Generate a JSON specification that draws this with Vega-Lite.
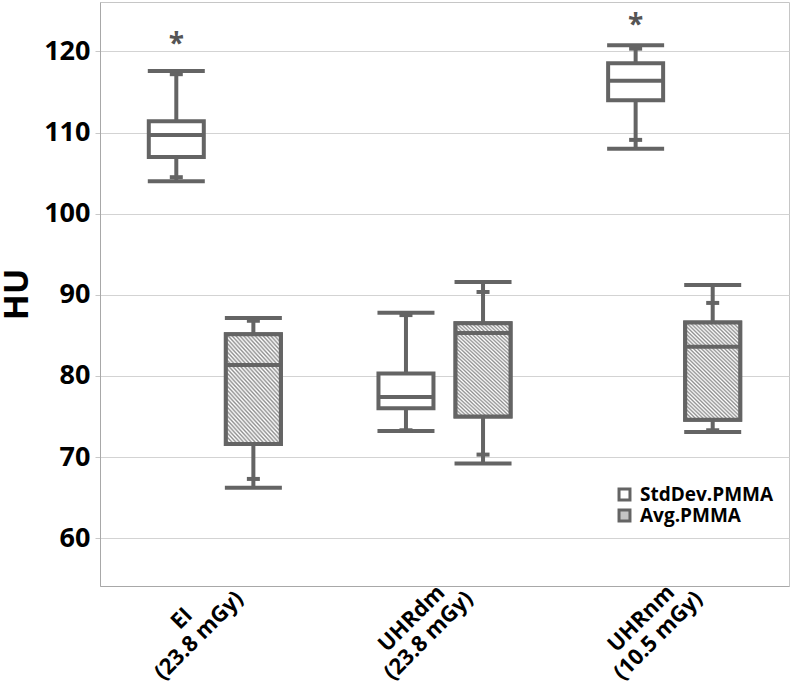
{
  "$schema": "https://vega.github.io/schema/vega-lite/v6.json",
  "width": 689,
  "height": 584,
  "autosize": "none",
  "padding": {"left": 100, "top": 2, "right": 1, "bottom": 108},
  "background": "white",
  "config": {
    "font": "Open Sans",
    "view": {"stroke": "#c6c6c6", "strokeWidth": 1}
  },
  "data": {
    "values": [
      {"group": "EI (23.8 mGy)", "series": "StdDev.PMMA", "min": 104.0, "lo": 104.5, "q1": 107.0, "median": 109.7, "q3": 111.4, "hi": 117.2, "max": 117.6, "star": 121.8},
      {"group": "EI (23.8 mGy)", "series": "Avg.PMMA", "min": 66.2, "lo": 67.3, "q1": 71.6, "median": 81.35, "q3": 85.15, "hi": 86.8, "max": 87.15, "star": null},
      {"group": "UHRdm (23.8 mGy)", "series": "StdDev.PMMA", "min": 73.2, "lo": 73.3, "q1": 76.0, "median": 77.4, "q3": 80.3, "hi": 87.5, "max": 87.8, "star": null},
      {"group": "UHRdm (23.8 mGy)", "series": "Avg.PMMA", "min": 69.2, "lo": 70.3, "q1": 75.0, "median": 85.3, "q3": 86.5, "hi": 90.35, "max": 91.57, "star": null},
      {"group": "UHRnm (10.5 mGy)", "series": "StdDev.PMMA", "min": 108.0, "lo": 109.1, "q1": 114.0, "median": 116.4, "q3": 118.55, "hi": 120.35, "max": 120.76, "star": 124.1},
      {"group": "UHRnm (10.5 mGy)", "series": "Avg.PMMA", "min": 73.1, "lo": 73.3, "q1": 74.6, "median": 83.6, "q3": 86.6, "hi": 89.0, "max": 91.2, "star": null}
    ]
  },
  "encoding": {
    "x": {
      "field": "group",
      "type": "nominal",
      "sort": ["EI (23.8 mGy)", "UHRdm (23.8 mGy)", "UHRnm (10.5 mGy)"],
      "scale": {"paddingInner": 0, "paddingOuter": 0},
      "axis": {
        "title": null,
        "labelAngle": -45,
        "labelAlign": "center",
        "labelBaseline": "middle",
        "labelFontSize": 22,
        "labelFontWeight": "bold",
        "labelColor": "#000000",
        "labelPadding": 32,
        "labelOffset": -33,
        "labelLineHeight": 24,
        "labelExpr": "[slice(datum.label, 0, indexof(datum.label, ' (')), slice(datum.label, indexof(datum.label, ' (') + 1)]",
        "ticks": false,
        "domainColor": "#a8a8a8",
        "grid": false
      }
    },
    "xOffset": {
      "field": "series",
      "type": "nominal",
      "sort": ["StdDev.PMMA", "Avg.PMMA"],
      "scale": {"paddingInner": 0, "paddingOuter": 0.49}
    }
  },
  "layer": [
    {
      "mark": {"type": "rule", "color": "#646464", "strokeWidth": 4},
      "encoding": {
        "y": {
          "field": "min",
          "type": "quantitative",
          "scale": {"domain": [54.1, 126.1], "nice": false, "zero": false},
          "axis": {
            "title": "HU",
            "titleFontSize": 34,
            "titleFontWeight": "bold",
            "titleColor": "#000000",
            "titlePadding": 9,
            "labelFontSize": 27,
            "labelFontWeight": "bold",
            "labelColor": "#000000",
            "labelPadding": 5,
            "tickSize": 5,
            "tickColor": "#c8c8c8",
            "gridColor": "#d3d3d3",
            "domainColor": "#a8a8a8",
            "values": [60, 70, 80, 90, 100, 110, 120]
          }
        },
        "y2": {"field": "max"}
      }
    },
    {
      "mark": {"type": "bar", "stroke": "#646464", "strokeWidth": 4, "width": 55},
      "encoding": {
        "y": {"field": "q1", "type": "quantitative"},
        "y2": {"field": "q3"},
        "fill": {
          "field": "series",
          "type": "nominal",
          "scale": {"domain": ["StdDev.PMMA", "Avg.PMMA"], "range": ["#ffffff", "#c4c4c4"]},
          "legend": {
            "title": null,
            "orient": "none",
            "legendX": 515,
            "legendY": 483,
            "symbolType": "square",
            "symbolSize": 120,
            "symbolStrokeColor": "#646464",
            "symbolStrokeWidth": 3,
            "labelFontSize": 19,
            "labelFontWeight": "bold",
            "labelColor": "#000000",
            "labelOffset": 6,
            "rowPadding": -3
          }
        }
      }
    },
    {
      "transform": [{"filter": "datum.series === 'Avg.PMMA'"}],
      "mark": {
        "type": "bar",
        "stroke": "#646464",
        "strokeWidth": 4,
        "width": 55,
        "fill": {
          "gradient": "linear",
          "x1": 0, "y1": 1, "x2": 0.6545, "y2": -0.19,
          "stops": [
            {"offset": 0, "color": "#8f8f8f"}, {"offset": 0.0125, "color": "#ffffff"},
            {"offset": 0.025, "color": "#8f8f8f"}, {"offset": 0.0375, "color": "#ffffff"},
            {"offset": 0.05, "color": "#8f8f8f"}, {"offset": 0.0625, "color": "#ffffff"},
            {"offset": 0.075, "color": "#8f8f8f"}, {"offset": 0.0875, "color": "#ffffff"},
            {"offset": 0.1, "color": "#8f8f8f"}, {"offset": 0.1125, "color": "#ffffff"},
            {"offset": 0.125, "color": "#8f8f8f"}, {"offset": 0.1375, "color": "#ffffff"},
            {"offset": 0.15, "color": "#8f8f8f"}, {"offset": 0.1625, "color": "#ffffff"},
            {"offset": 0.175, "color": "#8f8f8f"}, {"offset": 0.1875, "color": "#ffffff"},
            {"offset": 0.2, "color": "#8f8f8f"}, {"offset": 0.2125, "color": "#ffffff"},
            {"offset": 0.225, "color": "#8f8f8f"}, {"offset": 0.2375, "color": "#ffffff"},
            {"offset": 0.25, "color": "#8f8f8f"}, {"offset": 0.2625, "color": "#ffffff"},
            {"offset": 0.275, "color": "#8f8f8f"}, {"offset": 0.2875, "color": "#ffffff"},
            {"offset": 0.3, "color": "#8f8f8f"}, {"offset": 0.3125, "color": "#ffffff"},
            {"offset": 0.325, "color": "#8f8f8f"}, {"offset": 0.3375, "color": "#ffffff"},
            {"offset": 0.35, "color": "#8f8f8f"}, {"offset": 0.3625, "color": "#ffffff"},
            {"offset": 0.375, "color": "#8f8f8f"}, {"offset": 0.3875, "color": "#ffffff"},
            {"offset": 0.4, "color": "#8f8f8f"}, {"offset": 0.4125, "color": "#ffffff"},
            {"offset": 0.425, "color": "#8f8f8f"}, {"offset": 0.4375, "color": "#ffffff"},
            {"offset": 0.45, "color": "#8f8f8f"}, {"offset": 0.4625, "color": "#ffffff"},
            {"offset": 0.475, "color": "#8f8f8f"}, {"offset": 0.4875, "color": "#ffffff"},
            {"offset": 0.5, "color": "#8f8f8f"}, {"offset": 0.5125, "color": "#ffffff"},
            {"offset": 0.525, "color": "#8f8f8f"}, {"offset": 0.5375, "color": "#ffffff"},
            {"offset": 0.55, "color": "#8f8f8f"}, {"offset": 0.5625, "color": "#ffffff"},
            {"offset": 0.575, "color": "#8f8f8f"}, {"offset": 0.5875, "color": "#ffffff"},
            {"offset": 0.6, "color": "#8f8f8f"}, {"offset": 0.6125, "color": "#ffffff"},
            {"offset": 0.625, "color": "#8f8f8f"}, {"offset": 0.6375, "color": "#ffffff"},
            {"offset": 0.65, "color": "#8f8f8f"}, {"offset": 0.6625, "color": "#ffffff"},
            {"offset": 0.675, "color": "#8f8f8f"}, {"offset": 0.6875, "color": "#ffffff"},
            {"offset": 0.7, "color": "#8f8f8f"}, {"offset": 0.7125, "color": "#ffffff"},
            {"offset": 0.725, "color": "#8f8f8f"}, {"offset": 0.7375, "color": "#ffffff"},
            {"offset": 0.75, "color": "#8f8f8f"}, {"offset": 0.7625, "color": "#ffffff"},
            {"offset": 0.775, "color": "#8f8f8f"}, {"offset": 0.7875, "color": "#ffffff"},
            {"offset": 0.8, "color": "#8f8f8f"}, {"offset": 0.8125, "color": "#ffffff"},
            {"offset": 0.825, "color": "#8f8f8f"}, {"offset": 0.8375, "color": "#ffffff"},
            {"offset": 0.85, "color": "#8f8f8f"}, {"offset": 0.8625, "color": "#ffffff"},
            {"offset": 0.875, "color": "#8f8f8f"}, {"offset": 0.8875, "color": "#ffffff"},
            {"offset": 0.9, "color": "#8f8f8f"}, {"offset": 0.9125, "color": "#ffffff"},
            {"offset": 0.925, "color": "#8f8f8f"}, {"offset": 0.9375, "color": "#ffffff"},
            {"offset": 0.95, "color": "#8f8f8f"}, {"offset": 0.9625, "color": "#ffffff"},
            {"offset": 0.975, "color": "#8f8f8f"}, {"offset": 0.9875, "color": "#ffffff"},
            {"offset": 1, "color": "#8f8f8f"}
          ]
        }
      },
      "encoding": {
        "y": {"field": "q1", "type": "quantitative"},
        "y2": {"field": "q3"}
      }
    },
    {
      "mark": {"type": "tick", "color": "#646464", "size": 55, "thickness": 4, "opacity": 1},
      "encoding": {"y": {"field": "median", "type": "quantitative"}}
    },
    {
      "mark": {"type": "tick", "color": "#646464", "size": 57, "thickness": 4, "opacity": 1},
      "encoding": {"y": {"field": "min", "type": "quantitative"}}
    },
    {
      "mark": {"type": "tick", "color": "#646464", "size": 57, "thickness": 4, "opacity": 1},
      "encoding": {"y": {"field": "max", "type": "quantitative"}}
    },
    {
      "mark": {"type": "tick", "color": "#646464", "size": 13, "thickness": 4, "opacity": 1},
      "encoding": {"y": {"field": "lo", "type": "quantitative"}}
    },
    {
      "mark": {"type": "tick", "color": "#646464", "size": 13, "thickness": 4, "opacity": 1},
      "encoding": {"y": {"field": "hi", "type": "quantitative"}}
    },
    {
      "transform": [{"filter": "isValid(datum.star)"}],
      "mark": {"type": "text", "text": "*", "fontSize": 28, "fontWeight": "bold", "color": "#555555", "baseline": "alphabetic", "dy": 16},
      "encoding": {"y": {"field": "star", "type": "quantitative"}}
    }
  ]
}
